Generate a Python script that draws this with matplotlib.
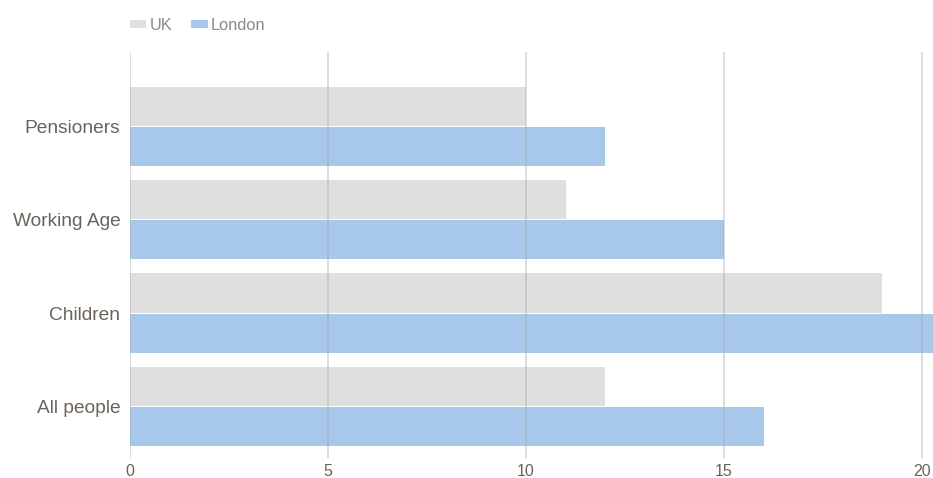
import matplotlib
matplotlib.use("Agg")
import matplotlib.pyplot as plt
import numpy as np

# Poverty rates (%) by group
categories = ["All people", "Children", "Working Age", "Pensioners"]
uk_values = [12, 19, 11, 10]
london_values = [16, 21, 15, 12]
x_ticks = [0, 5, 10, 15, 20]

plt.rcParams["font.family"] = ["Liberation Sans", "DejaVu Sans"]

fig = plt.figure(figsize=(9.33, 4.78), dpi=100)
ax = fig.add_axes([130 / 933, 20 / 478, 803 / 933, 406 / 478])

y = np.arange(len(categories))
h = 0.42
ax.barh(y + h / 2 + 0.005, uk_values, height=h, color="#dfdfdf", zorder=1, label="UK")
ax.barh(y - h / 2 - 0.005, london_values, height=h, color="#a7c8ea", zorder=1, label="London")

for xv in x_ticks:
    ax.axvline(xv, color="#a8a8a8", alpha=0.5, linewidth=1.1, zorder=3)

ax.set_xlim(0, 803 / 39.6)
ax.set_ylim(-0.552, 3.798)
ax.set_xticks(x_ticks)
ax.set_yticks(y)
ax.set_yticklabels(categories)
ax.tick_params(axis="y", length=0, pad=7, labelsize=13.8, labelcolor="#6b625a")
ax.tick_params(axis="x", length=0, pad=4, labelsize=11.5, labelcolor="#6b625a")
for s in ax.spines.values():
    s.set_visible(False)

leg = ax.legend(loc="lower left", bbox_to_anchor=(0.0, 1.047), ncol=2, frameon=False,
                fontsize=11.8, handlelength=1.0, handleheight=0.42, handletextpad=0.2,
                columnspacing=1.15, borderaxespad=0, borderpad=0)
for t in leg.get_texts():
    t.set_color("#8a8a8a")

fig.savefig("out.png", dpi=100)
